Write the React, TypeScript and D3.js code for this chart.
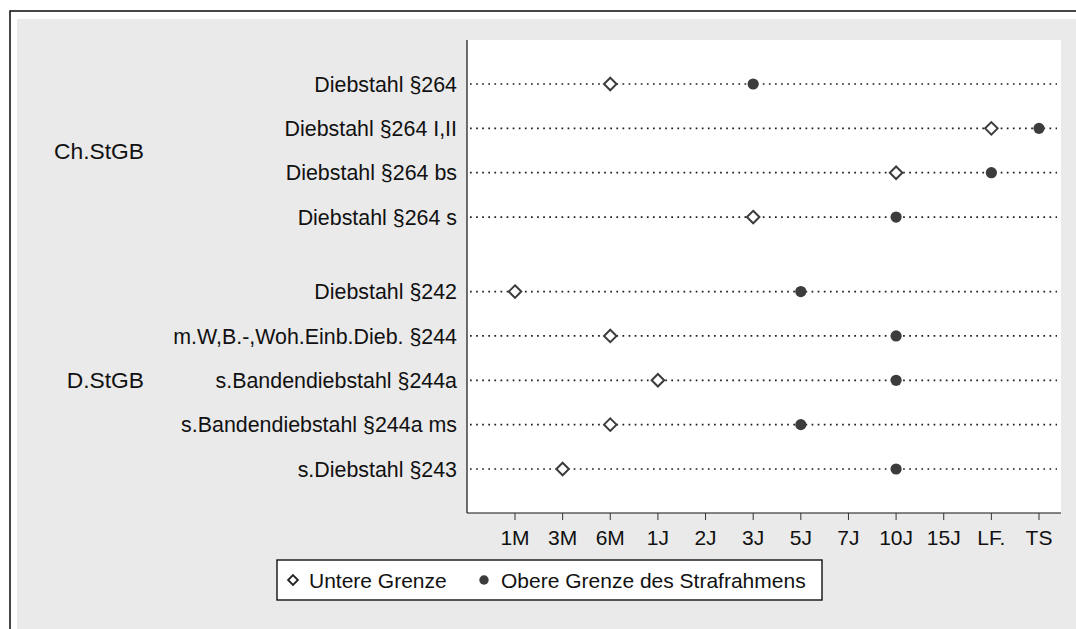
import React from "react";
import * as d3 from "d3";

const xTickLabels = ["1M", "3M", "6M", "1J", "2J", "3J", "5J", "7J", "10J", "15J", "LF.", "TS"];
const groupNames = ["Ch.StGB", "D.StGB"];
const offenses = [
  "Diebstahl §264",
  "Diebstahl §264 I,II",
  "Diebstahl §264 bs",
  "Diebstahl §264 s",
  "Diebstahl §242",
  "m.W,B.-,Woh.Einb.Dieb. §244",
  "s.Bandendiebstahl §244a",
  "s.Bandendiebstahl §244a ms",
  "s.Diebstahl §243",
];
const offenseGroup = [0, 0, 0, 0, 1, 1, 1, 1, 1];
const lowerBound = ["6M", "LF.", "10J", "3J", "1M", "6M", "1J", "6M", "3M"];
const upperBound = ["3J", "TS", "LF.", "10J", "5J", "10J", "10J", "5J", "10J"];
const legendLabels = ["Untere Grenze", "Obere Grenze des Strafrahmens"];

const W = 1076;
const H = 629;
const FONT = "'Liberation Sans', Arial, Helvetica, sans-serif";
const FS = 21;
const FS_ROW = 21.4;
const FS_GROUP = 22.8;
const MARK = "#3c3c3c";

const plot = { left: 467, right: 1061, top: 40, bottom: 513 };
const GAP = 0.68;

export default function App() {
  const x = d3.scalePoint<string>().domain(xTickLabels).range([515, 1039]);
  const slot = (i: number) => i + offenseGroup[i] * GAP;
  const y = d3
    .scaleLinear()
    .domain([0, offenses.length - 1 + GAP])
    .range([84, 469]);

  const diamond = d3.symbol().type(d3.symbolDiamond2).size(100)();
  const legendDiamond = d3.symbol().type(d3.symbolDiamond2).size(62)();

  const groupCenters = groupNames.map((_, g) => {
    const ys = offenses.map((_, i) => i).filter((i) => offenseGroup[i] === g).map((i) => y(slot(i)));
    return d3.mean(ys) as number;
  });

  return (
    <div style={{ position: "absolute", left: 0, top: 0, width: W, height: H, background: "#fff" }}>
      <svg width={W} height={H} style={{ display: "block", fontFamily: FONT }}>
        <rect x={0} y={0} width={W} height={H} fill="#ffffff" />
        <rect x={10} y={11} width={W + 20} height={H + 20} fill="#ffffff" stroke="#1a1a1a" strokeWidth={1.6} />
        <rect x={17} y={19} width={W} height={H} fill="#eaeaea" />
        <rect
          x={plot.left}
          y={plot.top}
          width={plot.right - plot.left}
          height={plot.bottom - plot.top}
          fill="#ffffff"
        />

        {offenses.map((o, i) => (
          <line
            key={"dl" + i}
            x1={plot.left + 3}
            x2={plot.right - 4}
            y1={y(slot(i))}
            y2={y(slot(i))}
            stroke="#1e1e1e"
            strokeWidth={1.7}
            strokeDasharray="1.7 4.4"
          />
        ))}

        <line x1={plot.left} x2={plot.left} y1={plot.top} y2={plot.bottom} stroke="#111" strokeWidth={1.2} />
        <line x1={plot.left} x2={plot.right} y1={plot.bottom} y2={plot.bottom} stroke="#111" strokeWidth={1.2} />

        {xTickLabels.map((t) => (
          <g key={"t" + t}>
            <line x1={x(t)} x2={x(t)} y1={plot.bottom} y2={plot.bottom + 7} stroke="#333" strokeWidth={1} />
            <text x={x(t)} y={545} textAnchor="middle" fontSize={FS} fill="#111">
              {t}
            </text>
          </g>
        ))}

        {offenses.map((o, i) => (
          <text key={"rl" + i} x={457} y={y(slot(i))} dy="0.36em" textAnchor="end" fontSize={FS_ROW} fill="#111">
            {o}
          </text>
        ))}

        {groupNames.map((g, gi) => (
          <text
            key={"g" + g}
            x={144}
            y={groupCenters[gi]}
            dy="0.36em"
            textAnchor="end"
            fontSize={FS_GROUP}
            fill="#111"
          >
            {g}
          </text>
        ))}

        {offenses.map((o, i) => (
          <g key={"m" + i}>
            <path
              d={diamond as string}
              transform={`translate(${x(lowerBound[i])},${y(slot(i))})`}
              fill="#fff"
              stroke={MARK}
              strokeWidth={2}
            />
            <circle cx={x(upperBound[i])} cy={y(slot(i))} r={5.6} fill={MARK} />
          </g>
        ))}

        <rect x={277} y={560} width={545} height={40} fill="#fff" stroke="#111" strokeWidth={1.4} />
        <path d={legendDiamond as string} transform="translate(293,580)" fill="#fff" stroke="#222" strokeWidth={1.8} />
        <text x={309} y={587.5} fontSize={FS} fill="#111">
          {legendLabels[0]}
        </text>
        <circle cx={484} cy={580} r={4.7} fill={MARK} />
        <text x={501} y={587.5} fontSize={FS} fill="#111">
          {legendLabels[1]}
        </text>
      </svg>
    </div>
  );
}
